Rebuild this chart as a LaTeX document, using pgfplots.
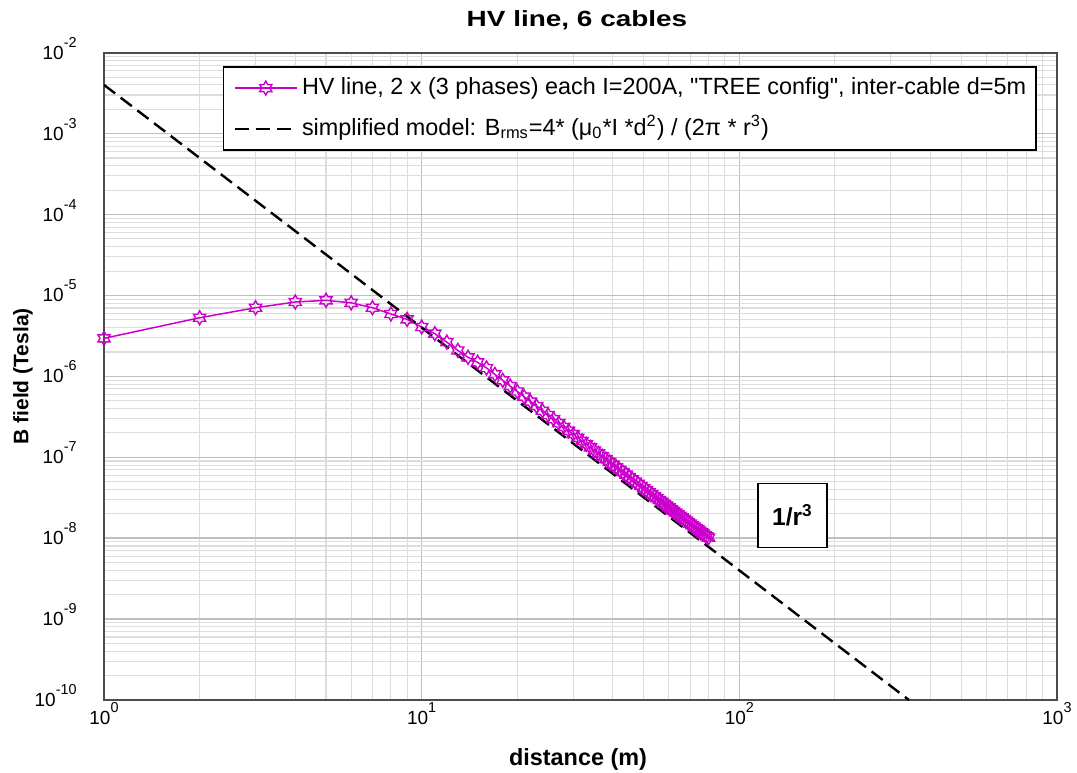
\documentclass[border=0pt]{standalone}
\usepackage{fontspec}
\setmainfont{Liberation Sans}
\usepackage{graphicx}
\usepackage{pgfplots}
\pgfplotsset{compat=1.18}
\definecolor{mag}{RGB}{204,0,204}
\newcommand{\pw}[1]{10\smash{\raisebox{6pt}{\fontsize{7.2}{8}\selectfont #1}}}
\pgfdeclareplotmark{hexagram}{%
  \pgfpathmoveto{\pgfpointpolar{90}{\pgfplotmarksize}}%
  \pgfpathlineto{\pgfpointpolar{120}{0.577\pgfplotmarksize}}%
  \pgfpathlineto{\pgfpointpolar{150}{\pgfplotmarksize}}%
  \pgfpathlineto{\pgfpointpolar{180}{0.577\pgfplotmarksize}}%
  \pgfpathlineto{\pgfpointpolar{210}{\pgfplotmarksize}}%
  \pgfpathlineto{\pgfpointpolar{240}{0.577\pgfplotmarksize}}%
  \pgfpathlineto{\pgfpointpolar{270}{\pgfplotmarksize}}%
  \pgfpathlineto{\pgfpointpolar{300}{0.577\pgfplotmarksize}}%
  \pgfpathlineto{\pgfpointpolar{330}{\pgfplotmarksize}}%
  \pgfpathlineto{\pgfpointpolar{0}{0.577\pgfplotmarksize}}%
  \pgfpathlineto{\pgfpointpolar{30}{\pgfplotmarksize}}%
  \pgfpathlineto{\pgfpointpolar{60}{0.577\pgfplotmarksize}}%
  \pgfpathclose
  \pgfusepathqstroke
}
\begin{document}
\begin{tikzpicture}
\useasboundingbox (0,0) rectangle (538.5pt,386pt);
\begin{axis}[
  at={(52pt,36pt)}, anchor=south west,
  scale only axis, width=476.5pt, height=323.65pt,
  xmode=log, ymode=log,
  xmin=1, xmax=1000, ymin=1e-10, ymax=1e-2,
  xtick={1,10,100,1000},
  xticklabels={\pw{0},\pw{1},\pw{2},\pw{3}},
  ytick={1e-10,1e-9,1e-8,1e-7,1e-6,1e-5,1e-4,1e-3,1e-2},
  yticklabels={\pw{-10},\pw{-9},\pw{-8},\pw{-7},\pw{-6},\pw{-5},\pw{-4},\pw{-3},\pw{-2}},
  minor xtick={2,3,4,5,6,7,8,9,20,30,40,50,60,70,80,90,200,300,400,500,600,700,800,900},
  minor ytick={2e-10,3e-10,4e-10,5e-10,6e-10,7e-10,8e-10,9e-10,
               2e-9,3e-9,4e-9,5e-9,6e-9,7e-9,8e-9,9e-9,
               2e-8,3e-8,4e-8,5e-8,6e-8,7e-8,8e-8,9e-8,
               2e-7,3e-7,4e-7,5e-7,6e-7,7e-7,8e-7,9e-7,
               2e-6,3e-6,4e-6,5e-6,6e-6,7e-6,8e-6,9e-6,
               2e-5,3e-5,4e-5,5e-5,6e-5,7e-5,8e-5,9e-5,
               2e-4,3e-4,4e-4,5e-4,6e-4,7e-4,8e-4,9e-4,
               2e-3,3e-3,4e-3,5e-3,6e-3,7e-3,8e-3,9e-3},
  grid=both,
  major grid style={draw=gray!50, line width=0.7pt},
  minor grid style={draw=gray!27, line width=0.55pt},
  major tick length=0pt, minor tick length=0pt,
  axis line style={draw=black!70, line width=0.8pt},
  tick label style={font=\fontsize{9.5}{11}\selectfont, inner sep=0pt},
  xticklabel style={anchor=north, yshift=-5.5pt},
  yticklabel style={anchor=east, xshift=-13.5pt},
  legend style={at={(0.979,0.979)}, anchor=north east, draw=black, line width=0.8pt,
    font=\fontsize{11.7}{13}\selectfont, inner xsep=5pt, inner ysep=4pt,
    nodes={inner sep=0pt, text height=9.5pt, text depth=3.5pt},
    row sep=7.5pt,
    /tikz/every odd column/.style={column sep=2pt}},
  legend cell align=left,
  legend image code/.code={\draw[mark repeat=2,mark phase=2,#1] plot coordinates {(0pt,0pt) (15.5pt,0pt) (31pt,0pt)};},
]
\addplot[mag, line width=0.75pt, mark=hexagram, mark size=3.5pt, mark options={solid, draw=mag, line width=0.7pt}] coordinates {
(1,2.95e-6) (2,5.3e-6) (3,7.05e-6) (4,8.3e-6) (5,8.7e-6) (6,8.1e-6) (7,7.05e-6) (8,5.9e-6) (9,5.06e-6) (10,4.07e-6)
(11,3.37e-6) (12,2.65e-6) (13,2.09e-6) (14,1.72e-6) (15,1.49e-6) (16,1.27e-6) (17,1.058e-6) (18,8.92e-7) (19,7.58e-7) (20,6.50e-7)
(21,5.61e-7) (22,4.88e-7) (23,4.28e-7) (24,3.76e-7) (25,3.33e-7) (26,2.96e-7) (27,2.64e-7) (28,2.37e-7) (29,2.13e-7) (30,1.93e-7)
(31,1.745e-7) (32,1.587e-7) (33,1.447e-7) (34,1.323e-7) (35,1.213e-7) (36,1.115e-7) (37,1.027e-7) (38,9.48e-8) (39,8.77e-8) (40,8.13e-8)
(41,7.54e-8) (42,7.02e-8) (43,6.54e-8) (44,6.10e-8) (45,5.71e-8) (46,5.34e-8) (47,5.01e-8) (48,4.70e-8) (49,4.42e-8) (50,4.16e-8)
(51,3.92e-8) (52,3.70e-8) (53,3.49e-8) (54,3.30e-8) (55,3.125e-8) (56,2.961e-8) (57,2.808e-8) (58,2.665e-8) (59,2.532e-8) (60,2.407e-8)
(61,2.291e-8) (62,2.182e-8) (63,2.080e-8) (64,1.984e-8) (65,1.894e-8) (66,1.809e-8) (67,1.729e-8) (68,1.654e-8) (69,1.583e-8) (70,1.516e-8)
(71,1.453e-8) (72,1.393e-8) (73,1.337e-8) (74,1.284e-8) (75,1.233e-8) (76,1.184e-8) (77,1.139e-8) (78,1.095e-8) (79,1.055e-8) (80,1.016e-8)
};
\addlegendentry{HV line, 2 x (3 phases) each I=200A, \textquotedbl TREE config\textquotedbl, inter-cable d=5m}
\addplot[black, line width=1.2pt, dash pattern=on 7pt off 3.5pt] coordinates {(1,4e-3) (342,1e-10)};
\addlegendentry{simplified model: B\textsubscript{rms}=4* (μ\textsubscript{0}*I *d\textsuperscript{2}) / (2π * r\textsuperscript{3})}
\node[draw=black, line width=0.7pt, fill=white, minimum width=34.5pt, minimum height=32pt, inner sep=0pt,
  font=\fontsize{12.3}{14}\selectfont\bfseries] at (axis cs:147,1.92e-8) {1/r\textsuperscript{3}};
\end{axis}
\node[font=\fontsize{11}{13}\selectfont\bfseries] at (288.5pt,376pt) {\scalebox{1.27}[1]{HV line, 6 cables}};
\node[font=\fontsize{11.7}{13}\selectfont\bfseries] at (289pt,6.5pt) {distance (m)};
\node[rotate=90, font=\fontsize{10.5}{12}\selectfont\bfseries] at (11.5pt,197.8pt) {B field (Tesla)};
\end{tikzpicture}
\end{document}
